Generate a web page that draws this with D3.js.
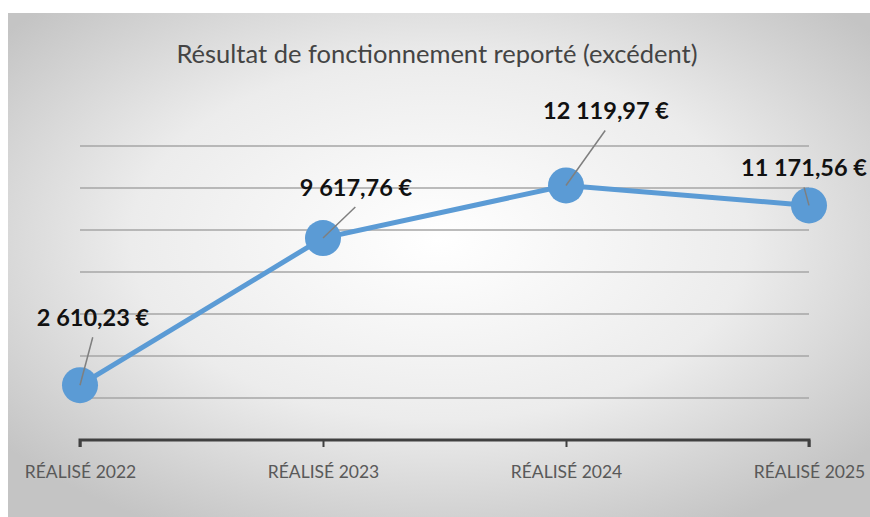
<!DOCTYPE html>
<html>
<head>
<meta charset="utf-8">
<script src="https://cdn.jsdelivr.net/npm/d3@7"></script>
<style>
  body { margin: 0; background: #fff; }
  svg { display: block; }
</style>
</head>
<body>
<svg id="svg1" width="870" height="517"></svg>
<script>
// chart data
var categories = ['RÉALISÉ 2022', 'RÉALISÉ 2023', 'RÉALISÉ 2024', 'RÉALISÉ 2025'];
var values = [2610.23, 9617.76, 12119.97, 11171.56];
var labels = ['2 610,23 €', '9 617,76 €', '12 119,97 €', '11 171,56 €'];
var gridTicks = [2000, 4000, 6000, 8000, 10000, 12000, 14000];
var title = 'Résultat de fonctionnement reporté (excédent)';

// label offsets from the point (dx, dy of text anchor)
var labelOffsets = [[13, -59], [33, -42], [40, -66], [-5, -29]];

var width = 870, height = 517;
var svg = d3.select('#svg1');

// background with soft radial gradient
var defs = svg.append('defs');
var grad = defs.append('radialGradient')
    .attr('id', 'bg')
    .attr('cx', '50%').attr('cy', '45%').attr('r', '65%');
grad.append('stop').attr('offset', '0%').attr('stop-color', '#ffffff');
grad.append('stop').attr('offset', '55%').attr('stop-color', '#ececec');
grad.append('stop').attr('offset', '100%').attr('stop-color', '#c4c4c4');

svg.append('rect')
    .attr('x', 8).attr('y', 13)
    .attr('width', width - 8).attr('height', height - 13)
    .attr('fill', 'url(#bg)');

var x = d3.scalePoint()
    .domain(categories)
    .range([80, 809]);

var y = d3.scaleLinear()
    .domain([0, 14000])
    .range([440, 146]);

// title
svg.append('text')
    .attr('x', 437).attr('y', 63)
    .attr('text-anchor', 'middle')
    .attr('font-family', 'Lato, sans-serif')
    .attr('font-size', 25.5)
    .attr('fill', '#444')
    .text(title);

// gridlines
svg.selectAll('line.grid')
    .data(gridTicks)
    .enter()
    .append('line')
    .attr('class', 'grid')
    .attr('x1', x.range()[0]).attr('x2', x.range()[1])
    .attr('y1', function(d){ return y(d); })
    .attr('y2', function(d){ return y(d); })
    .attr('stroke', '#a6a6a6')
    .attr('stroke-width', 1.5);

// x axis
var xAxis = svg.append('g')
    .attr('transform', 'translate(0,' + y(0) + ')')
    .call(d3.axisBottom(x).tickSize(7).tickPadding(19));
xAxis.select('.domain')
    .attr('d', 'M' + x.range()[0] + ',7V0H' + x.range()[1] + 'V7')
    .attr('stroke', '#404040')
    .attr('stroke-width', 3);
xAxis.selectAll('.tick line')
    .attr('stroke', '#404040')
    .attr('stroke-width', 2);
xAxis.selectAll('.tick text')
    .attr('font-family', 'Lato, sans-serif')
    .attr('font-size', 17.5)
    .attr('fill', '#595959');

// line
var line = d3.line()
    .x(function(d, i){ return x(categories[i]); })
    .y(function(d){ return y(d); });

svg.append('path')
    .datum(values)
    .attr('d', line)
    .attr('fill', 'none')
    .attr('stroke', '#5b9bd5')
    .attr('stroke-width', 5);

svg.selectAll('circle.pt')
    .data(values)
    .enter()
    .append('circle')
    .attr('class', 'pt')
    .attr('cx', function(d, i){ return x(categories[i]); })
    .attr('cy', function(d){ return y(d); })
    .attr('r', 18)
    .attr('fill', '#5b9bd5');

// leader lines
svg.selectAll('line.leader')
    .data(values)
    .enter()
    .append('line')
    .attr('class', 'leader')
    .attr('x1', function(d, i){ return x(categories[i]); })
    .attr('y1', function(d){ return y(d); })
    .attr('x2', function(d, i){ return x(categories[i]) + labelOffsets[i][0] * 0.98; })
    .attr('y2', function(d, i){ return y(d) + labelOffsets[i][1] + 11; })
    .attr('stroke', '#7f7f7f')
    .attr('stroke-width', 1.5);

// data labels
svg.selectAll('text.lbl')
    .data(values)
    .enter()
    .append('text')
    .attr('class', 'lbl')
    .attr('x', function(d, i){ return x(categories[i]) + labelOffsets[i][0]; })
    .attr('y', function(d, i){ return y(d) + labelOffsets[i][1]; })
    .attr('text-anchor', 'middle')
    .attr('font-family', 'Lato, sans-serif')
    .attr('font-weight', 'bold')
    .attr('font-size', 23.5)
    .attr('fill', '#111')
    .text(function(d, i){ return labels[i]; });
</script>
</body>
</html>
